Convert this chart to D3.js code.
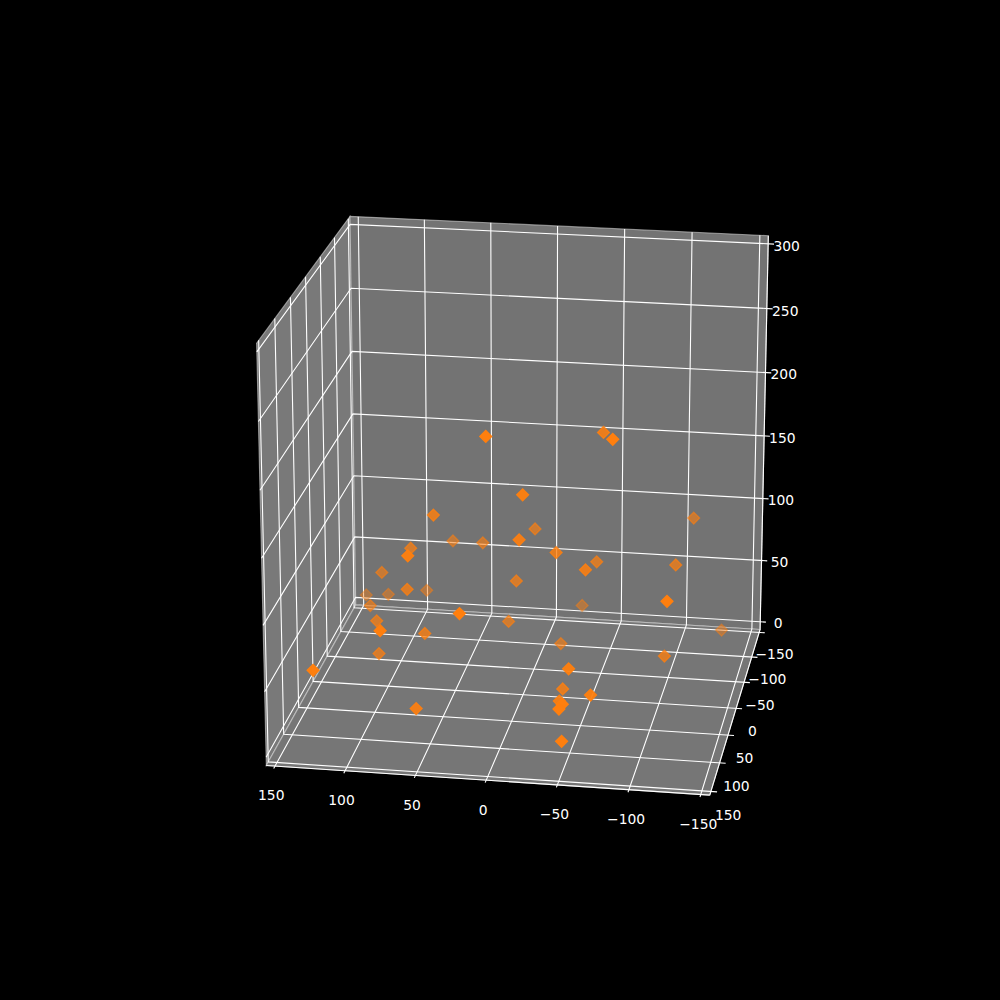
<!DOCTYPE html><html><head><meta charset="utf-8"><script src="https://d3js.org/d3.v7.min.js"></script>
<style>html,body{margin:0;background:#000}svg{display:block}</style></head><body><svg width="1000" height="1000" style="font-family:'DejaVu Sans'"></svg>
<script>
const xs=[8,-16,55,-7,58,33,-12,77,60,104,1,74,82,130,110,111,19,98,72,60,95,116,52,-56,-55,-111,-121,-32,8,-135,-27,-109,-54,-42,-70,-46,-54,-52,-55,-63,-78,-117,-32];
const ys=[108,98,55,-11,-37,-21,89,27,125,-1,23,57,-59,-70,-54,8,152,49,165,65,57,181,141,70,9,1,126,-75,15,-85,-5,43,133,82,137,123,161,163,170,35,94,-52,50];
const zs=[231,186,151,120,97,103,149,114,146,83,92,94,48,37,45,60,116,65,105,64,43,79,38,122,105,103,124,37,57,20,34,49,72,35,55,43,57,54,33,213,229,120,126];
const xTicks=[-150,-100,-50,0,50,100,150];
const yTicks=[-150,-100,-50,0,50,100,150];
const zTicks=[0,50,100,150,200,250,300];
const xLim=[-150,150],yLim=[-150,150],zLim=[0,300];
const pad=6.25,labelPad=15,tickOut=4.3;
const elev=20*Math.PI/180,azim=99.4*Math.PI/180,dist=10;

const sx=d3.scaleLinear().domain(xLim).range([-.5,.5]);
const sy=d3.scaleLinear().domain(yLim).range([-.5,.5]);
const sz=d3.scaleLinear().domain(zLim).range([-.5,.5]);
const px=d3.scaleLinear().domain([-.095,.09]).range([125,900]);
const py=d3.scaleLinear().domain([-.095,.09]).range([890,120]);
const n=[Math.cos(elev)*Math.cos(azim),Math.cos(elev)*Math.sin(azim),Math.sin(elev)];
const nl=Math.hypot(n[0],n[1]);
const u=[-n[1]/nl,n[0]/nl,0];
const v=[n[1]*u[2]-n[2]*u[1],n[2]*u[0]-n[0]*u[2],n[0]*u[1]-n[1]*u[0]];
const dot=(a,b)=>a[0]*b[0]+a[1]*b[1]+a[2]*b[2];
const depth=(x,y,z)=>dot([sx(x),sy(y),sz(z)],n);
function proj(x,y,z){const p=[sx(x),sy(y),sz(z)],w=dist-dot(p,n);return [px(dot(p,u)/w),py(dot(p,v)/w)];}

const X0=xLim[0]-pad,X1=xLim[1]+pad,Y0=yLim[0]-pad,Y1=yLim[1]+pad,Z0=zLim[0]-pad,Z1=zLim[1]+pad;
const svg=d3.select('svg');
const line=d3.line();
const path=(pts,close)=>line(pts.map(q=>proj(...q)))+(close?'Z':'');

const panes=[
 {c:'#797979',pts:[[X1,Y0,Z0],[X1,Y1,Z0],[X1,Y1,Z1],[X1,Y0,Z1]]},
 {c:'#737373',pts:[[X0,Y0,Z0],[X1,Y0,Z0],[X1,Y0,Z1],[X0,Y0,Z1]]},
 {c:'#767676',pts:[[X0,Y0,Z0],[X1,Y0,Z0],[X1,Y1,Z0],[X0,Y1,Z0]]}];
svg.append('g').selectAll('path').data(panes).join('path').attr('d',d=>path(d.pts,true))
  .attr('fill',d=>d.c).attr('stroke','#f2f2f2').attr('stroke-opacity',.5).attr('stroke-width',1.1);

const gl=svg.append('g').attr('fill','none').attr('stroke','#fff').attr('stroke-width',1.1);
const seg=(pts)=>gl.append('path').attr('d',path(pts));
seg([[X1,Y1,Z0],[X0,Y1,Z0]]);
seg([[X0,Y1,Z0],[X0,Y0,Z0]]);
seg([[X0,Y0,Z0],[X0,Y0,Z1]]);
xTicks.forEach(t=>{seg([[t,Y1+tickOut,Z0],[t,Y0,Z0],[t,Y0,Z1]]);});
yTicks.forEach(t=>{seg([[X0-tickOut,t,Z0],[X1,t,Z0],[X1,t,Z1]]);});
zTicks.forEach(t=>{seg([[X0-tickOut,Y0,t],[X1,Y0,t],[X1,Y1,t]]);});

const fmt=t=>String(t).replace('-','\u2212');
const lab=svg.append('g').attr('fill','#fff').attr('font-size',13.89).attr('text-anchor','middle').attr('dominant-baseline','central');
const put=(p,t,dx,dy)=>lab.append('text').attr('x',p[0]+dx).attr('y',p[1]+dy).text(fmt(t));
xTicks.forEach(t=>put(proj(t,Y1+labelPad,Z0-labelPad),t,.5,1));
yTicks.forEach(t=>put(proj(X0-labelPad,t,Z0-labelPad),t,-4,2.5));
zTicks.forEach(t=>put(proj(X0-labelPad,Y0-labelPad,t),t,-4,7));

const pts=xs.map((x,i)=>({x,y:ys[i],z:zs[i],d:depth(x,ys[i],zs[i])})).sort((a,b)=>a.d-b.d);
const shade=d3.scaleLinear().domain(d3.extent(pts,d=>d.d)).range([.4,1]);
const sym=d3.symbol().type(d3.symbolSquare).size(69.4);
svg.append('g').selectAll('path').data(pts).join('path').attr('d',sym())
  .attr('transform',d=>{const p=proj(d.x,d.y,d.z);return `translate(${p[0]},${p[1]}) rotate(45)`;})
  .attr('fill','#ff7f0e').attr('stroke','#ff7f0e').attr('stroke-width',1.39)
  .attr('fill-opacity',d=>shade(d.d)).attr('stroke-opacity',d=>shade(d.d));
</script></body></html>
